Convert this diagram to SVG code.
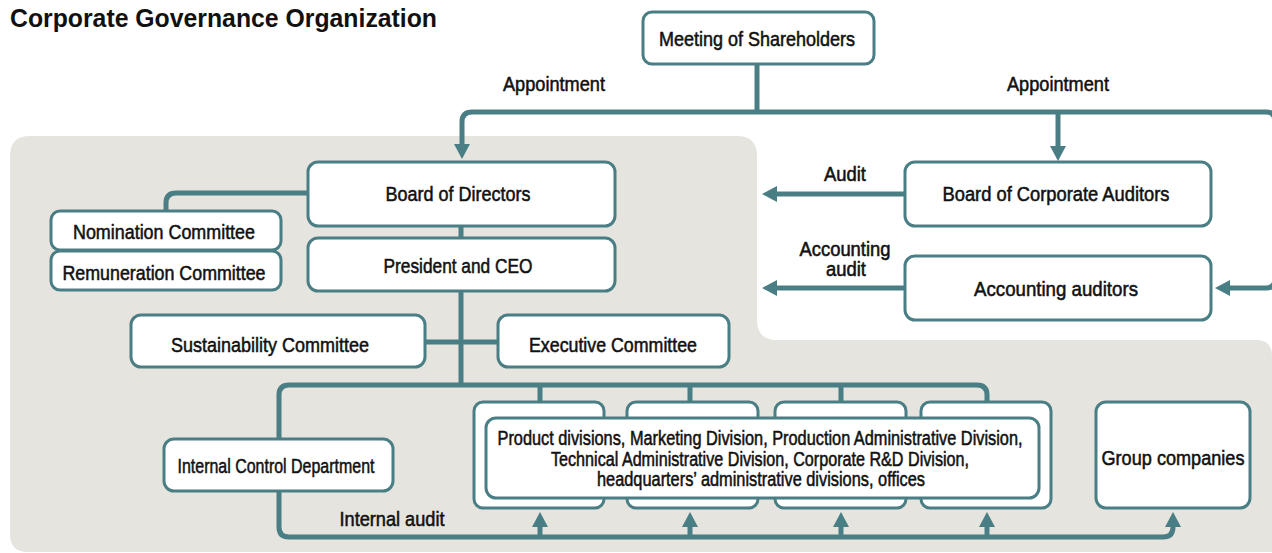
<svg xmlns="http://www.w3.org/2000/svg" width="1272" height="553" viewBox="0 0 1272 553">
<defs>
<style>
.bx{fill:#ffffff;stroke:#4a7e85;stroke-width:3}
.ln{fill:none;stroke:#4a7e85;stroke-width:5}
.t{font-family:"Liberation Sans Narrow","Liberation Sans",Arial,sans-serif;font-size:21px;fill:#111;text-anchor:middle;stroke:#111;stroke-width:0.55}
.ml{font-size:20px}
.title{font-family:"Liberation Sans Narrow","Liberation Sans",Arial,sans-serif;font-size:26px;font-weight:bold;fill:#111}
</style>
<marker id="ah" viewBox="0 -8 15 16" refX="1" refY="0" markerWidth="15" markerHeight="16" markerUnits="userSpaceOnUse" orient="auto">
<path d="M0,-8 L15,0 L0,8 Z" fill="#4a7e85"/>
</marker>
</defs>
<rect width="1272" height="553" fill="#ffffff"/>
<path d="M10,156 Q10,136 30,136 H737 Q757,136 757,156 V320 Q757,340 777,340 H1256 Q1272,340 1272,356 V552 H28 Q10,552 10,534 Z" fill="#e5e4df"/>
<text class="title" x="10" y="27" textLength="427" lengthAdjust="spacingAndGlyphs">Corporate Governance Organization</text>

<g id="connectors">
<path class="ln" d="M757,64 V112"/>
<path class="ln" d="M757,112 H472 Q462,112 462,122 V145" marker-end="url(#ah)"/>
<path class="ln" d="M757,112 H1266 Q1275,112 1275,121 V279 Q1275,288 1266,288 H1229" marker-end="url(#ah)"/>
<path class="ln" d="M1058,112 V147" marker-end="url(#ah)"/>
<path class="ln" d="M905,194 H776" marker-end="url(#ah)"/>
<path class="ln" d="M905,288 H776" marker-end="url(#ah)"/>
<path class="ln" d="M308,193 H176 Q166,193 166,203 V211"/>
<path class="ln" d="M461,226 V238"/>
<path class="ln" d="M461,291 V385"/>
<path class="ln" d="M425,342 H498"/>
<path class="ln" d="M279,439 V395 Q279,385 289,385 H977 Q987,385 987,395 V403"/>
<path class="ln" d="M540,385 V403 M690,385 V403 M841,385 V403"/>
<path class="ln" d="M279,491 V527 Q279,537 289,537 H1163 Q1173,537 1173,527 V526" marker-end="url(#ah)"/>
<path class="ln" d="M540,537 V526" marker-end="url(#ah)"/>
<path class="ln" d="M690,537 V526" marker-end="url(#ah)"/>
<path class="ln" d="M841,537 V526" marker-end="url(#ah)"/>
<path class="ln" d="M987,537 V526" marker-end="url(#ah)"/>
<text class="t" x="554" y="91" textLength="102" lengthAdjust="spacingAndGlyphs">Appointment</text>
<text class="t" x="1058" y="91" textLength="102" lengthAdjust="spacingAndGlyphs">Appointment</text>
<text class="t" x="845" y="181" textLength="42" lengthAdjust="spacingAndGlyphs">Audit</text>
<text class="t ml" x="845" y="256" textLength="91" lengthAdjust="spacingAndGlyphs">Accounting</text>
<text class="t ml" x="846" y="276" textLength="40" lengthAdjust="spacingAndGlyphs">audit</text>
<text class="t" x="392" y="526" textLength="105" lengthAdjust="spacingAndGlyphs">Internal audit</text>
</g>

<g id="shareholders">
<rect class="bx" x="643" y="12" width="231" height="52" rx="9"/>
<text class="t" x="757" y="46" textLength="196" lengthAdjust="spacingAndGlyphs">Meeting of Shareholders</text>
</g>
<g id="board-of-directors">
<rect class="bx" x="308" y="162" width="307" height="64" rx="10"/>
<text class="t" x="458" y="201" textLength="145" lengthAdjust="spacingAndGlyphs">Board of Directors</text>
</g>
<g id="president">
<rect class="bx" x="308" y="238" width="307" height="53" rx="10"/>
<text class="t" x="458" y="273" textLength="149" lengthAdjust="spacingAndGlyphs">President and CEO</text>
</g>
<g id="nomination">
<rect class="bx" x="51" y="211" width="230" height="39" rx="9"/>
<text class="t" x="164" y="239" textLength="182" lengthAdjust="spacingAndGlyphs">Nomination Committee</text>
</g>
<g id="remuneration">
<rect class="bx" x="51" y="251" width="230" height="39" rx="9"/>
<text class="t" x="164" y="280" textLength="203" lengthAdjust="spacingAndGlyphs">Remuneration Committee</text>
</g>
<g id="sustainability">
<rect class="bx" x="131" y="315" width="294" height="52" rx="10"/>
<text class="t" x="270" y="352" textLength="198" lengthAdjust="spacingAndGlyphs">Sustainability Committee</text>
</g>
<g id="executive">
<rect class="bx" x="498" y="315" width="231" height="52" rx="10"/>
<text class="t" x="613" y="352" textLength="168" lengthAdjust="spacingAndGlyphs">Executive Committee</text>
</g>
<g id="corporate-auditors">
<rect class="bx" x="905" y="162" width="306" height="64" rx="10"/>
<text class="t" x="1056" y="201" textLength="227" lengthAdjust="spacingAndGlyphs">Board of Corporate Auditors</text>
</g>
<g id="accounting-auditors">
<rect class="bx" x="905" y="256" width="306" height="64" rx="10"/>
<text class="t" x="1056" y="296" textLength="164" lengthAdjust="spacingAndGlyphs">Accounting auditors</text>
</g>
<g id="internal-control">
<rect class="bx" x="164" y="439" width="229" height="52" rx="10"/>
<text class="t" x="276" y="473" textLength="197" lengthAdjust="spacingAndGlyphs">Internal Control Department</text>
</g>
<g id="divisions">
<rect class="bx" x="474" y="402" width="130" height="106" rx="9"/>
<rect class="bx" x="627" y="402" width="131" height="106" rx="9"/>
<rect class="bx" x="775" y="402" width="131" height="106" rx="9"/>
<rect class="bx" x="921" y="402" width="130" height="106" rx="9"/>
<rect class="bx" x="486" y="418" width="553" height="80" rx="10"/>
<text class="t ml" x="760" y="445" textLength="525" lengthAdjust="spacingAndGlyphs">Product divisions, Marketing Division, Production Administrative Division,</text>
<text class="t ml" x="760" y="466" textLength="418" lengthAdjust="spacingAndGlyphs">Technical Administrative Division, Corporate R&amp;D Division,</text>
<text class="t ml" x="761" y="486" textLength="328" lengthAdjust="spacingAndGlyphs">headquarters’ administrative divisions, offices</text>
</g>
<g id="group-companies">
<rect class="bx" x="1096" y="402" width="154" height="106" rx="10"/>
<text class="t" x="1173" y="465" textLength="143" lengthAdjust="spacingAndGlyphs">Group companies</text>
</g>
</svg>
